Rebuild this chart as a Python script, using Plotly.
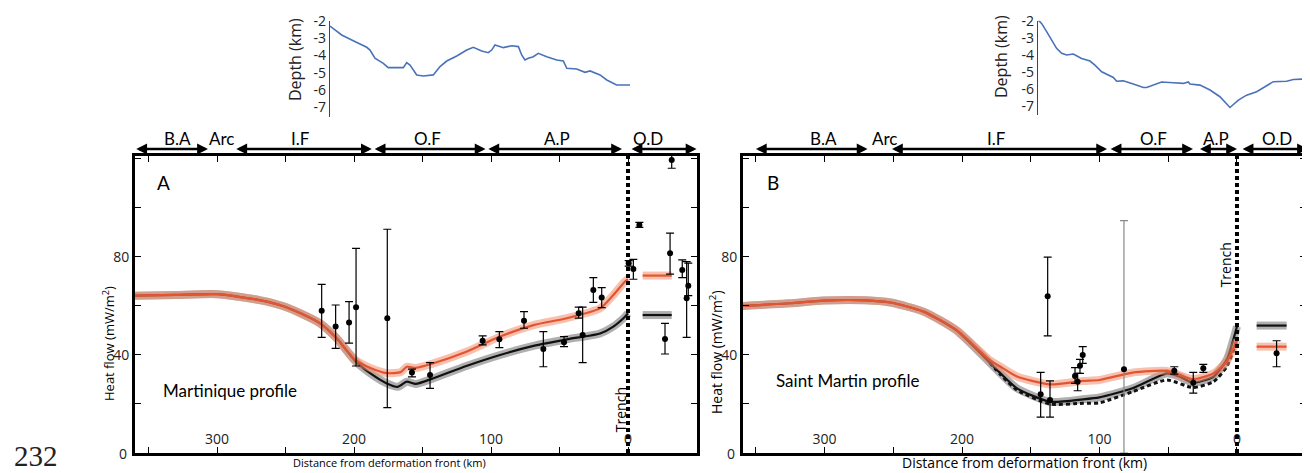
import plotly.graph_objects as go

# Page offset of the browser's default body margin (8 px) is compensated in the helpers below
OFF = 8
W, H = 1310 - OFF, 473 - OFF

# ---------------- DATA ----------------
# Depth profiles (insets): distance (km), depth (km)
depthA_x = [217.5, 209, 200.5, 190.7, 188.3, 184.7, 178.6, 175, 170, 164, 161.5, 159.1, 154.2, 149.4,
            142.1, 137.2, 132.3, 125, 117.7, 112.9, 106.8, 102, 99.5, 97.1, 91, 84.9, 80, 77.6, 75.2,
            72.8, 69.1, 65.5, 59.3, 52, 47.2, 44.7, 37.4, 31.4, 27.7, 20.4, 15.5, 8.3, -1.5]
depthA_z = [-2.31, -2.82, -3.15, -3.53, -3.69, -4.16, -4.45, -4.70, -4.70, -4.70, -4.41, -4.55, -5.12,
            -5.18, -5.12, -4.64, -4.32, -4.03, -3.69, -3.53, -3.74, -3.84, -3.69, -3.40, -3.55, -3.44,
            -3.49, -3.97, -4.26, -4.16, -4.07, -3.88, -4.07, -4.26, -4.32, -4.74, -4.78, -4.97, -4.89,
            -5.12, -5.41, -5.70, -5.70]
depthB_x = [144.5, 142.1, 138.4, 134.8, 131.2, 127.5, 123.9, 119, 116.6, 113, 106.9, 103.3, 98.4, 93.6,
            89.9, 87.5, 82.7, 75.4, 68.1, 65.7, 60.8, 54.8, 46.3, 39, 35.4, 34.2, 26.9, 19.6, 12.4, 5.1,
            -1, -7, -14.3, -21.6, -26.4, -36.1, -41, -48.2, -53.1]
depthB_z = [-1.96, -2.16, -2.64, -3.13, -3.62, -3.91, -4.01, -3.95, -4.07, -4.21, -4.36, -4.60, -4.99,
            -5.18, -5.32, -5.54, -5.52, -5.71, -5.91, -5.91, -5.77, -5.59, -5.63, -5.67, -5.59, -5.71,
            -5.77, -6.06, -6.45, -7.08, -6.65, -6.36, -6.16, -5.83, -5.57, -5.54, -5.44, -5.42, -5.44]

# Panel A (Martinique) model curves: distance (km), heat flow (mW/m2)
A_orange_x = [360, 330, 300, 269, 252, 239, 225, 213, 199, 188, 176, 166, 161.5, 155, 142, 118, 93.4,
              69, 44.7, 20.4, 10.7, 2.2, 0]
A_orange_y = [64.2, 64.5, 64.8, 62.4, 60, 57, 53, 47, 38, 34.7, 32.6, 33, 35.2, 34.7, 36.6, 41.3, 47.5,
              52.2, 55, 59, 64.5, 70, 71]
A_black_x = [360, 330, 300, 269, 252, 239, 225, 213, 199, 188, 176, 168, 161.5, 155, 142, 118, 93.4,
             69, 44.7, 20.4, 10.7, 2.2, 0]
A_black_y = [64.2, 64.5, 64.8, 62.4, 60, 57, 53, 47, 37.5, 32.5, 28.4, 27, 29.1, 28.2, 30.5, 35.5, 40,
             43.7, 46.4, 48.8, 51.6, 55.6, 57]
A_off_x = [-10.7, -31.9]
A_off_orange = [72.4, 72.4]
A_off_black = [56.3, 56.3]

# Panel A measurements: distance, value, upper, lower
A_pt_x = [223.6, 213.4, 203.6, 198.5, 175.7, 157.7, 144.5, 106.1, 93.9, 75.9, 61.8, 46.7, 36.0, 33.1,
          25.3, 19.2, -0.5, -3.9, -8.3, -30.7, -27.0, -39.6, -44.0, -42.8, -31.9]
A_pt_y = [58.0, 51.6, 53.3, 59.5, 55.0, 32.8, 31.8, 45.8, 46.4, 54.0, 42.4, 45.2, 57.0, 48.2,
          66.5, 63.5, 77.4, 75.1, 93.0, 81.5, 46.5, 74.7, 68.3, 63.1, 119.6]
A_pt_hi = [68.8, 60.4, 61.8, 83.5, 91.3, 34.2, 36.9, 47.8, 49.5, 57.7, 49.5, 47.5, 59.5, 59.5,
           71.6, 67.5, 78.5, 79.0, 94.1, 89.7, 52.9, 78.8, 77.5, 78.1, 123.0]
A_pt_lo = [47.2, 42.7, 44.8, 35.5, 18.5, 31.1, 26.4, 44.1, 43.0, 50.9, 35.2, 43.4, 55.0, 36.9,
           61.5, 59.3, 76.3, 70.9, 92.1, 73.0, 40.4, 71.6, 64.2, 47.2, 116.2]

# Panel B (Saint Martin) model curves
B_orange_x = [360, 325, 301, 270, 252, 228, 204, 180, 172, 160, 136, 112, 100, 76, 51, 39, 32, 17, 7.5, 1.5, 0]
B_orange_y = [60, 61.1, 62.2, 62.3, 61.4, 57.7, 50.2, 38, 35.2, 31.2, 28, 29.4, 29.8, 32.8, 33.5, 31.2,
              30.1, 32.5, 37.3, 44, 46]
B_black_x = [360, 325, 301, 270, 252, 228, 204, 180, 172, 160, 136, 112, 100, 76, 51, 42, 32, 17, 7.5, 0]
B_black_y = [60, 61.1, 62.2, 62.3, 61.4, 57.7, 50.0, 37, 32.5, 26.4, 20.9, 21.9, 22.7, 26.4, 32.5, 31.2,
             28.7, 31.2, 38, 51.6]
B_dash_x = [180, 172, 160, 136, 112, 100, 76, 51, 32, 17, 7.5, 1.5, 0]
B_dash_y = [37, 32, 25.7, 20, 20.3, 20.5, 25, 29.8, 26.7, 29.1, 35.2, 43.4, 46]
B_off_x = [-14.3, -36.1]
B_off_black = [52, 52]
B_off_orange = [43.4, 43.4]

# Panel B measurements
B_pt_x = [137.7, 142.8, 136.0, 117.8, 115.9, 114.2, 112.2, 45.6, 31.8, 24.5, -28.8]
B_pt_y = [64.0, 24.0, 21.6, 31.4, 29.1, 35.6, 40.0, 33.6, 28.7, 34.6, 40.7]
B_pt_hi = [79.9, 32.9, 29.4, 34.8, 32.5, 38.2, 43.4, 35.2, 32.9, 36.2, 45.8]
B_pt_lo = [47.8, 14.6, 14.6, 28.4, 25.4, 32.5, 36.6, 32.2, 24.4, 32.9, 35.2]
B_grey_x = [82.2]
B_grey_y = [34.2]
B_grey_hi = [94.8]
B_grey_lo = [0.0]

# Tectonic domains (label, start km, end km) and arc position
A_regions = [("B.A", 360, 306.6), ("I.F", 287, 187), ("O.F", 186, 104), ("A.P", 103, 4.4), ("O.D", -1.5, -50)]
A_region_lab_x = [329, 239.4, 146, 51.8, -14.5]
A_arc = 300
A_arc_lab = 296.5
B_regions = [("B.A", 351, 268.7), ("I.F", 252, 94.5), ("O.F", 93, 32), ("A.P", 28, 0), ("O.D", -3, -51.6)]
B_region_lab_x = [301, 175, 60.4, 15.5, -29]
B_arc = 260
B_arc_lab = 256.5

x_tickvals = [350, 300, 250, 200, 150, 100, 50, 0, -50]
x_ticktext = ["", "300", "", "200", "", "100", "", "0", ""]
y_tickvals = [0, 20, 40, 60, 80, 100, 120]
y_ticktext = ["", "", "40", "", "80", "", ""]
y_zero_label = "0"
depth_ticks = [-2, -3, -4, -5, -6, -7]
depth_ticktext = ["-2", "-3", "-4", "-5", "-6", "-7"]

# ---------------- LAYOUT HELPERS ----------------
def xd(px):
    return (px - OFF) / W

def yd(py):
    return 1 - (py - OFF) / H

ORANGE = "#E25530"
ORANGE_HALO = "rgba(242,140,110,0.55)"
BLACK = "#111111"
BLACK_HALO = "rgba(110,110,110,0.55)"
BLUE = "#4A72B8"
TICKFONT = "Open Sans"
COMIC = "Lato"

fig = go.Figure()


def curve(x, y, xa, ya, core, halo, dash=None, halo_on=True, width=2.2):
    if halo_on:
        fig.add_trace(go.Scatter(x=x, y=y, xaxis=xa, yaxis=ya, mode="lines",
                                 line=dict(color=halo, width=8, shape="spline", smoothing=0.6),
                                 hoverinfo="skip"))
    fig.add_trace(go.Scatter(x=x, y=y, xaxis=xa, yaxis=ya, mode="lines",
                             line=dict(color=core, width=width, dash=dash, shape="spline", smoothing=0.6),
                             hoverinfo="skip"))


def points(x, y, hi, lo, xa, ya, color="black", mcolor="black"):
    plus = [h - v for h, v in zip(hi, y)]
    minus = [v - l for v, l in zip(y, lo)]
    fig.add_trace(go.Scatter(x=x, y=y, xaxis=xa, yaxis=ya, mode="markers",
                             marker=dict(color=mcolor, size=6),
                             error_y=dict(type="data", array=plus, arrayminus=minus, symmetric=False,
                                          color=color, thickness=1.2, width=4),
                             cliponaxis=False))


# Panel A
curve(A_black_x, A_black_y, "x", "y", BLACK, BLACK_HALO)
curve(A_orange_x, A_orange_y, "x", "y", ORANGE, ORANGE_HALO)
curve(A_off_x, A_off_black, "x", "y", BLACK, BLACK_HALO)
curve(A_off_x, A_off_orange, "x", "y", ORANGE, ORANGE_HALO)
points(A_pt_x, A_pt_y, A_pt_hi, A_pt_lo, "x", "y")

# Panel B
curve(B_black_x, B_black_y, "x2", "y2", BLACK, BLACK_HALO)
curve(B_dash_x, B_dash_y, "x2", "y2", BLACK, BLACK_HALO, dash="4px,3px", halo_on=False, width=3)
curve(B_orange_x, B_orange_y, "x2", "y2", ORANGE, ORANGE_HALO)
curve(B_off_x, B_off_black, "x2", "y2", BLACK, BLACK_HALO)
curve(B_off_x, B_off_orange, "x2", "y2", ORANGE, ORANGE_HALO)
points(B_grey_x, B_grey_y, B_grey_hi, B_grey_lo, "x2", "y2", color="#8a8a8a")
points(B_pt_x, B_pt_y, B_pt_hi, B_pt_lo, "x2", "y2")

# Arc triangles
fig.add_trace(go.Scatter(x=[A_arc], y=[122.6], xaxis="x", yaxis="y", mode="markers",
                         marker=dict(symbol="triangle-up", size=11, color="black"), cliponaxis=False))
fig.add_trace(go.Scatter(x=[B_arc], y=[122.6], xaxis="x2", yaxis="y2", mode="markers",
                         marker=dict(symbol="triangle-up", size=11, color="black"), cliponaxis=False))

# Depth insets
fig.add_trace(go.Scatter(x=depthA_x, y=depthA_z, xaxis="x3", yaxis="y3", mode="lines",
                         line=dict(color=BLUE, width=1.6), cliponaxis=False))
fig.add_trace(go.Scatter(x=depthB_x, y=depthB_z, xaxis="x4", yaxis="y4", mode="lines",
                         line=dict(color=BLUE, width=1.6), cliponaxis=False))

YR = [0, 121.2]
main_x = dict(range=[359.85, -50.36], tickvals=x_tickvals, ticktext=x_ticktext, ticks="inside",
              ticklen=6, tickwidth=1, tickcolor="black", ticklabelposition="inside",
              tickfont=dict(family=TICKFONT, size=14, color="#222"), showline=True, linewidth=3,
              linecolor="black", mirror="ticks", showgrid=False, zeroline=False, automargin=False)
main_y = dict(range=YR, tickvals=y_tickvals, ticktext=y_ticktext, ticks="inside", ticklen=6, tickwidth=1,
              tickcolor="black", tickfont=dict(family=TICKFONT, size=14, color="#222"), showline=True,
              linewidth=3, linecolor="black", mirror="ticks", showgrid=False, zeroline=False, automargin=False)

depth_y = dict(tickvals=depth_ticks, ticktext=depth_ticktext, ticks="", showline=True, linewidth=1.3,
               linecolor="#444", showgrid=False, zeroline=False, automargin=False,
               tickfont=dict(family=TICKFONT, size=14, color="#222"))

fig.update_layout(
    width=W, height=H, margin=dict(l=0, r=0, t=0, b=0, pad=0, autoexpand=False),
    paper_bgcolor="white", plot_bgcolor="white", showlegend=False,
    xaxis=dict(main_x, domain=[xd(135), xd(697)], anchor="y"),
    yaxis=dict(main_y, domain=[yd(453), yd(156)], anchor="x"),
    xaxis2=dict(main_x, range=[359.3, -50.2], domain=[xd(743), xd(1306)], anchor="y2"),
    yaxis2=dict(main_y, domain=[yd(453), yd(156)], anchor="x2"),
    xaxis3=dict(range=[217.5, -1.46], domain=[xd(330), xd(630)], anchor="y3", visible=False, automargin=False),
    yaxis3=dict(depth_y, range=[-7.53, -2.0], domain=[yd(116.8), yd(20.7)], anchor="x3"),
    xaxis4=dict(range=[144.7, -53.1], domain=[xd(1038), 1.0], anchor="y4", visible=False, automargin=False),
    yaxis4=dict(depth_y, range=[-7.52, -2.0], domain=[yd(115), yd(20.7)], anchor="x4"),
)

shapes = []
for xa, ya in (("x", "y"), ("x2", "y2")):
    shapes.append(dict(type="line", xref=xa, yref=ya, x0=0, x1=0, y0=0, y1=YR[1],
                       line=dict(color="black", width=4, dash="4px,3px")))
fig.update_layout(shapes=shapes)

ann = []
C = dict(xanchor="center", yanchor="middle", showarrow=False)
# Region arrows and labels
for regions, labx, xa, arc_lab in ((A_regions, A_region_lab_x, "x", A_arc_lab),
                                   (B_regions, B_region_lab_x, "x2", B_arc_lab)):
    for (lab, x0, x1), lx in zip(regions, labx):
        ann.append(dict(x=x1, y=yd(149), xref=xa, yref="paper", ax=x0, ay=0, axref=xa, ayref="pixel",
                        text="", showarrow=True, arrowhead=2, arrowside="end+start", arrowsize=0.9,
                        arrowwidth=2.4, arrowcolor="black", standoff=0, startstandoff=0))
        ann.append(dict(C, x=lx, y=yd(138.5), xref=xa, yref="paper", text=lab,
                        font=dict(family=COMIC, size=17, color="black")))
    ann.append(dict(C, x=arc_lab, y=yd(138.5), xref=xa, yref="paper", text="Arc",
                    font=dict(family=COMIC, size=17, color="black")))

# Depth inset titles
ann.append(dict(C, x=xd(295), y=yd(60), xref="paper", yref="paper", text="Depth (km)", textangle=-90,
                font=dict(family=TICKFONT, size=16, color="#222")))
ann.append(dict(C, x=xd(1001), y=yd(57), xref="paper", yref="paper", text="Depth (km)", textangle=-90,
                font=dict(family=TICKFONT, size=16, color="#222")))

# "0" labels of the heat-flow axes (placed just left of each frame)
for ya, px in (("y", 129), ("y2", 737)):
    ann.append(dict(C, x=xd(px), y=0, xref="paper", yref=ya, text=y_zero_label, xanchor="right",
                    font=dict(family=TICKFONT, size=14, color="#222")))

# Panel letters and profile names
ann.append(dict(C, x=339.4, y=110.2, xref="x", yref="y", text="A",
                font=dict(family=COMIC, size=19, color="black")))
ann.append(dict(C, x=337.5, y=110.2, xref="x2", yref="y2", text="B",
                font=dict(family=COMIC, size=19, color="black")))
ann.append(dict(C, x=341, y=25.7, xref="x", yref="y", text="Martinique profile", xanchor="left",
                font=dict(family=COMIC, size=17, color="black")))
ann.append(dict(C, x=337, y=29.4, xref="x2", yref="y2", text="Saint Martin profile", xanchor="left",
                font=dict(family=COMIC, size=17, color="black")))
# Trench labels
ann.append(dict(C, x=5.8, y=17.5, xref="x", yref="y", text="Trench", textangle=-90,
                font=dict(family=TICKFONT, size=14, color="black")))
ann.append(dict(C, x=8.5, y=76.7, xref="x2", yref="y2", text="Trench", textangle=-90,
                font=dict(family=TICKFONT, size=14, color="black")))
# Axis titles
ann.append(dict(C, x=xd(389), y=yd(462), xref="paper", yref="paper", text="Distance from deformation front (km)",
                font=dict(family=TICKFONT, size=11, color="black")))
ann.append(dict(C, x=xd(1024), y=yd(462), xref="paper", yref="paper", text="Distance from deformation front (km)",
                font=dict(family=TICKFONT, size=14, color="black")))
ann.append(dict(C, x=xd(108), y=yd(344), xref="paper", yref="paper", text="Heat flow (mW/m<sup>2</sup>)",
                textangle=-90, font=dict(family=TICKFONT, size=13, color="black")))
ann.append(dict(C, x=xd(716), y=yd(352), xref="paper", yref="paper", text="Heat flow (mW/m<sup>2</sup>)",
                textangle=-90, font=dict(family=TICKFONT, size=14, color="black")))
# Line number
ann.append(dict(C, x=xd(36), y=yd(456), xref="paper", yref="paper", text="232",
                font=dict(family="Liberation Serif", size=29, color="#222")))
fig.update_layout(annotations=ann)

fig.write_html("out.html")
